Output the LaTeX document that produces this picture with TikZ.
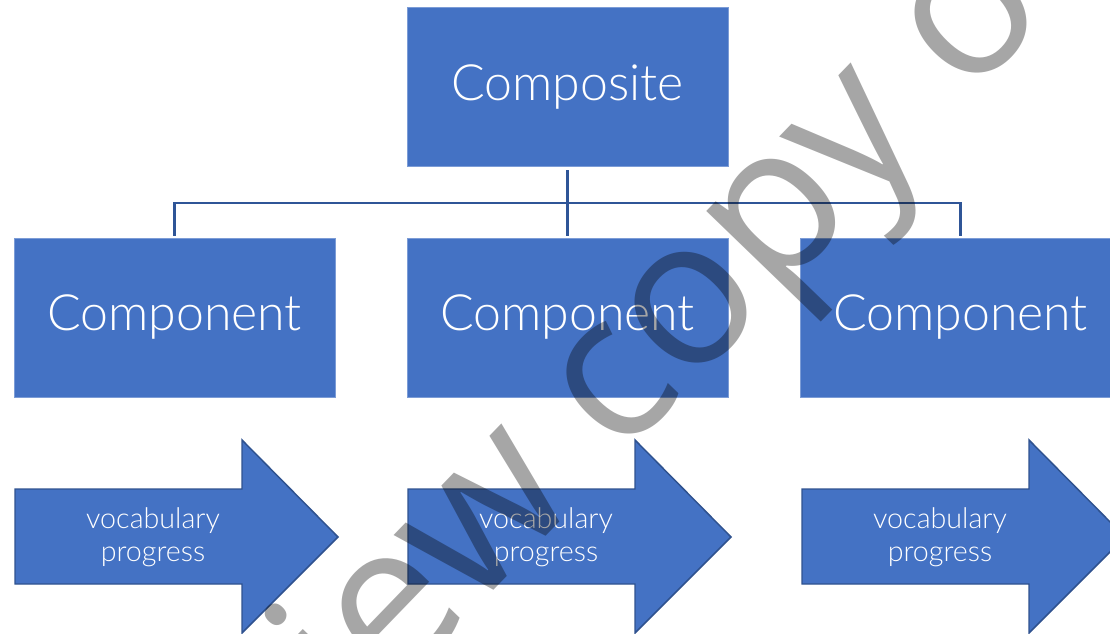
\documentclass[tikz,border=0pt]{standalone}
\usepackage{fontspec}
\IfFontExistsTF{Lato Light}{\setmainfont{Lato Light}}{%
  \IfFontExistsTF{FiraSans-Light.otf}{\setmainfont{FiraSans-Light.otf}}{\setmainfont{Poppins}}}
\newfontfamily\markfont{Open Sans}
\definecolor{boxblue}{HTML}{4472C4}
\definecolor{lineblue}{HTML}{2F5597}
\definecolor{edgeblue}{HTML}{2F528F}
\definecolor{markgray}{HTML}{A6A6A6}

\begin{document}
\begin{tikzpicture}[x=0.75pt, y=-0.75pt,
    box/.style={fill=boxblue, draw=boxblue!70!white, line width=0.5pt, text=white,
      minimum width=240.75pt, minimum height=119.25pt, inner sep=0pt,
      font=\fontsize{37.5}{44}\selectfont},
    link/.style={draw=lineblue, line width=2.2pt},
    arrowtext/.style={text=white, align=center, font=\fontsize{21.5}{24.75}\selectfont}]
    \useasboundingbox (0,0) rectangle (1110,634);
    % the tree
    \node[box] (comp) at (567.5,87) {Composite};
    \node[box] (c1) at (174.5,317.5) {Component};
    \node[box] (c2) at (567.5,317.5) {Component};
    \node[box] (c3) at (960.5,317.5) {Component};
    \coordinate (bus) at (567.5,203);
    \draw[link] ([yshift=-2.6pt]comp.south) -- ([yshift=1.5pt]c2.north);
    \draw[link] ([yshift=1.5pt]c1.north) |- (bus) -| ([yshift=1.5pt]c3.north);
    % block arrows
    \foreach \n/\x in {a1/15, a2/408, a3/802} {
        \draw[fill=boxblue, draw=edgeblue, line width=1.1pt] (\x,489) -- ++(227,0) -- ++(0,-49)
            -- ++(96,97) -- ++(-96,96) -- ++(0,-49) -- ++(-227,0) -- cycle;
        \node[arrowtext] (\n) at (\x+138,537) {vocabulary\\progress};
    }
    % watermark
    \begin{scope}[blend mode=multiply]
        \node[text=markgray, rotate=46, anchor=base, inner sep=0pt,
            font=\markfont\fontsize{154}{154}\selectfont] (mark) at (585,496) {Preview copy of};
    \end{scope}
\end{tikzpicture}
\end{document}
